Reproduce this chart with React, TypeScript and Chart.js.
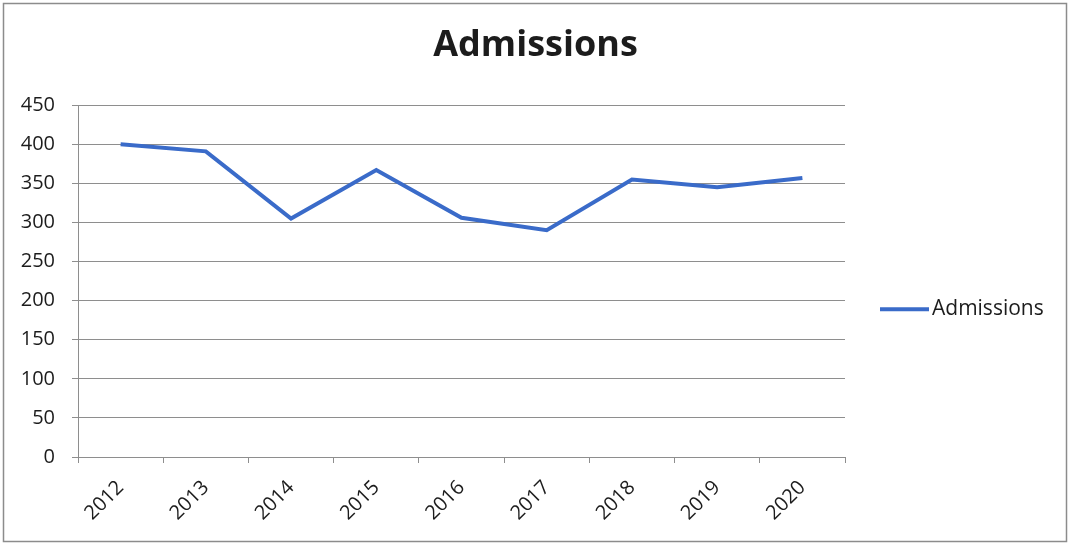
import { useEffect, useRef } from "react";
import { Chart, registerables } from "chart.js";

Chart.register(...registerables);

// Yearly admissions
const years = ["2012", "2013", "2014", "2015", "2016", "2017", "2018", "2019", "2020"];
const admissions = [400, 391, 305, 367, 306, 290, 355, 345, 357];
const seriesLabel = "Admissions";
const yMin = 0;
const yMax = 450;
const yStep = 50;

const FONT = "'Open Sans', 'DejaVu Sans', sans-serif";
const LINE_BLUE = "#3a6bc9";
const GRID_GRAY = "#8e8e8e";
const TEXT = "#1c1c1c";

const W = 1071;
const H = 544;

// White background with a thin grey frame around the whole chart
const framePlugin = {
  id: "frame",
  beforeDraw(chart: any) {
    const { ctx } = chart;
    ctx.save();
    ctx.fillStyle = "#ffffff";
    ctx.fillRect(0, 0, chart.width, chart.height);
    ctx.strokeStyle = "#8c8c8c";
    ctx.lineWidth = 1.5;
    ctx.strokeRect(3.5, 3.5, chart.width - 8, chart.height - 6);
    ctx.restore();
  },
};

// Single-entry legend to the right of the plot: a line swatch and the series name
const sideLegendPlugin = {
  id: "sideLegend",
  afterDraw(chart: any) {
    const { ctx, chartArea } = chart;
    const ds = chart.data.datasets[0];
    const y = chartArea.top + (chartArea.bottom - chartArea.top) * 0.58;
    const x0 = chartArea.right + 35;
    const x1 = x0 + 49;
    ctx.save();
    ctx.strokeStyle = ds.borderColor;
    ctx.lineWidth = 4;
    ctx.beginPath();
    ctx.moveTo(x0, y);
    ctx.lineTo(x1, y);
    ctx.stroke();
    ctx.fillStyle = TEXT;
    ctx.font = `21px ${FONT}`;
    ctx.textAlign = "left";
    ctx.textBaseline = "middle";
    ctx.fillText(ds.label, x1 + 3, y);
    ctx.restore();
  },
};

export default function App() {
  const canvasRef = useRef<HTMLCanvasElement | null>(null);

  useEffect(() => {
    const canvas = canvasRef.current;
    if (!canvas) return;
    const chart = new Chart(canvas, {
      type: "line",
      data: {
        labels: years,
        datasets: [
          {
            label: seriesLabel,
            data: admissions,
            borderColor: LINE_BLUE,
            backgroundColor: LINE_BLUE,
            borderWidth: 4,
            pointRadius: 0,
            pointHoverRadius: 0,
            tension: 0,
            fill: false,
          },
        ],
      },
      options: {
        responsive: false,
        animation: false,
        layout: { padding: 0 },
        plugins: {
          legend: { display: false },
          tooltip: { enabled: false },
          title: {
            display: true,
            text: seriesLabel,
            color: TEXT,
            font: { family: FONT, size: 36, weight: "bold" },
            padding: { top: 24, bottom: 38 },
          },
        },
        scales: {
          x: {
            type: "category",
            offset: true,
            afterFit(scale: any) {
              scale.height = 87;
            },
            grid: {
              display: true,
              drawOnChartArea: false,
              drawTicks: true,
              tickLength: 6,
              offset: true,
              color: GRID_GRAY,
            },
            border: { display: true, color: GRID_GRAY, width: 1 },
            ticks: {
              color: TEXT,
              font: { family: FONT, size: 20 },
              minRotation: 45,
              maxRotation: 45,
              padding: 13,
              autoSkip: false,
            },
          },
          y: {
            min: yMin,
            max: yMax,
            afterFit(scale: any) {
              scale.width = 78;
            },
            grid: {
              color: GRID_GRAY,
              lineWidth: 1,
              tickLength: 6,
            },
            border: { display: true, color: GRID_GRAY, width: 1 },
            ticks: {
              stepSize: yStep,
              color: TEXT,
              font: { family: FONT, size: 20 },
              padding: 17,
            },
          },
          // empty axis on the right that reserves room for the side legend
          legendSpace: {
            type: "linear",
            position: "right",
            display: true,
            afterFit(scale: any) {
              scale.width = 226;
            },
            grid: { display: false, drawTicks: false },
            border: { display: false },
            ticks: { display: false },
          },
        },
      },
      plugins: [framePlugin, sideLegendPlugin],
    });
    return () => chart.destroy();
  }, []);

  return (
    <div style={{ position: "fixed", left: 0, top: 0, width: W, height: H, background: "#fff" }}>
      <canvas ref={canvasRef} width={W} height={H} style={{ width: W, height: H, display: "block" }} />
    </div>
  );
}
